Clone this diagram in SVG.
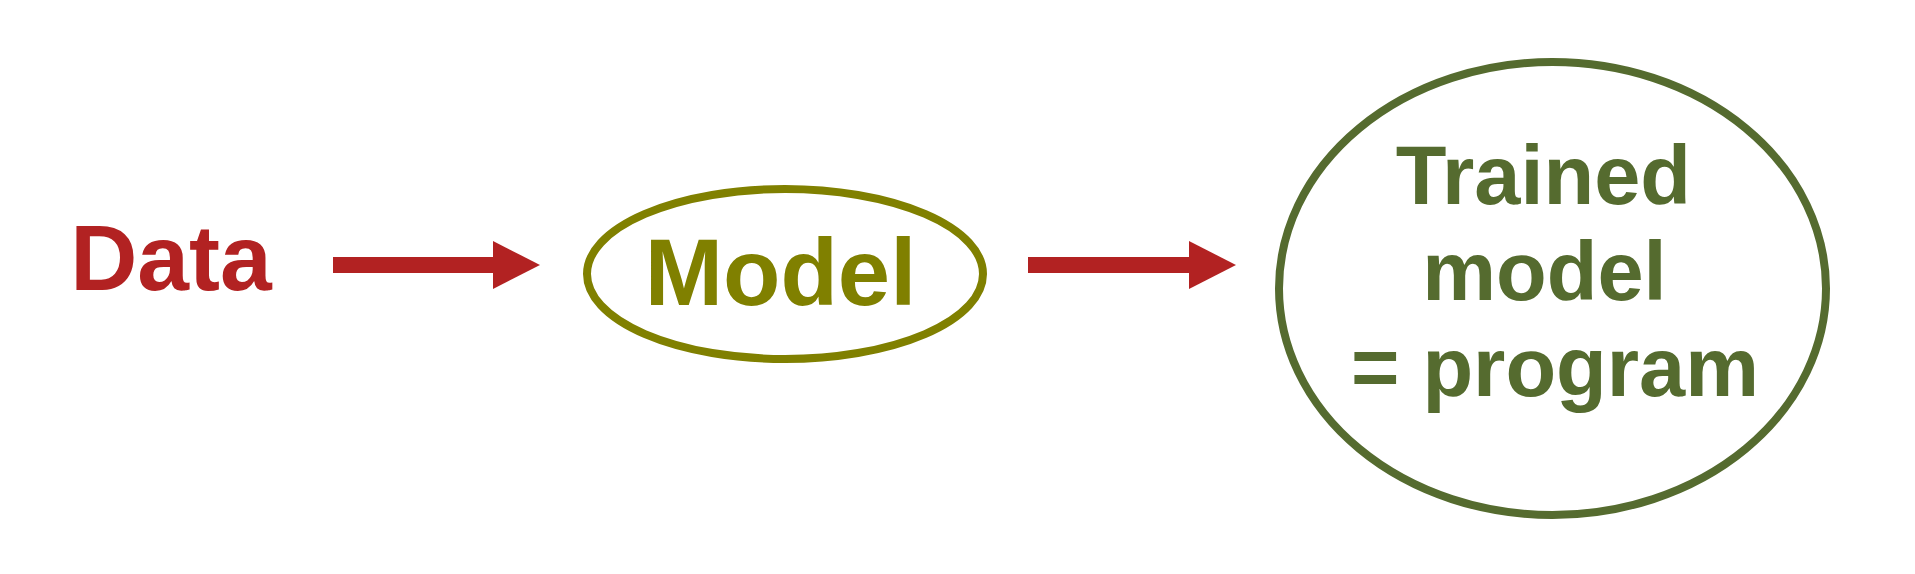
<svg xmlns="http://www.w3.org/2000/svg" width="1915" height="574" viewBox="0 0 1915 574">
  <style>
    .lbl { font-family: "Liberation Sans", Arial, sans-serif; font-weight: bold; text-anchor: middle; }
    .conn { stroke: #B22222; stroke-width: 16; fill: none; }
  </style>
  <defs>
    <marker id="head" markerUnits="userSpaceOnUse" markerWidth="47" markerHeight="48" refX="0" refY="24" orient="auto" viewBox="0 0 47 48">
      <path d="M0,0 L47,24 L0,48 Z" fill="#B22222"/>
    </marker>
  </defs>
  <rect width="1915" height="574" fill="#ffffff"/>
  <g id="connectors">
    <line class="conn" x1="333" y1="265" x2="493" y2="265" marker-end="url(#head)"/>
    <line class="conn" x1="1028" y1="265" x2="1189" y2="265" marker-end="url(#head)"/>
  </g>
  <g id="data">
    <text class="lbl" x="171" y="290" font-size="93" fill="#B22222">Data</text>
  </g>
  <g id="model">
    <ellipse cx="785" cy="274" rx="198" ry="85" fill="none" stroke="#808000" stroke-width="8"/>
    <text class="lbl" x="780.5" y="305" font-size="94" fill="#808000">Model</text>
  </g>
  <g id="trained">
    <ellipse cx="1552.5" cy="288.5" rx="273.5" ry="226.5" fill="none" stroke="#556B2F" stroke-width="8"/>
    <text class="lbl" font-size="83" fill="#556B2F">
      <tspan x="1555" y="204">Trained</tspan>
      <tspan x="1556" y="300">model</tspan>
      <tspan x="1555" y="396">= program</tspan>
    </text>
  </g>
</svg>
